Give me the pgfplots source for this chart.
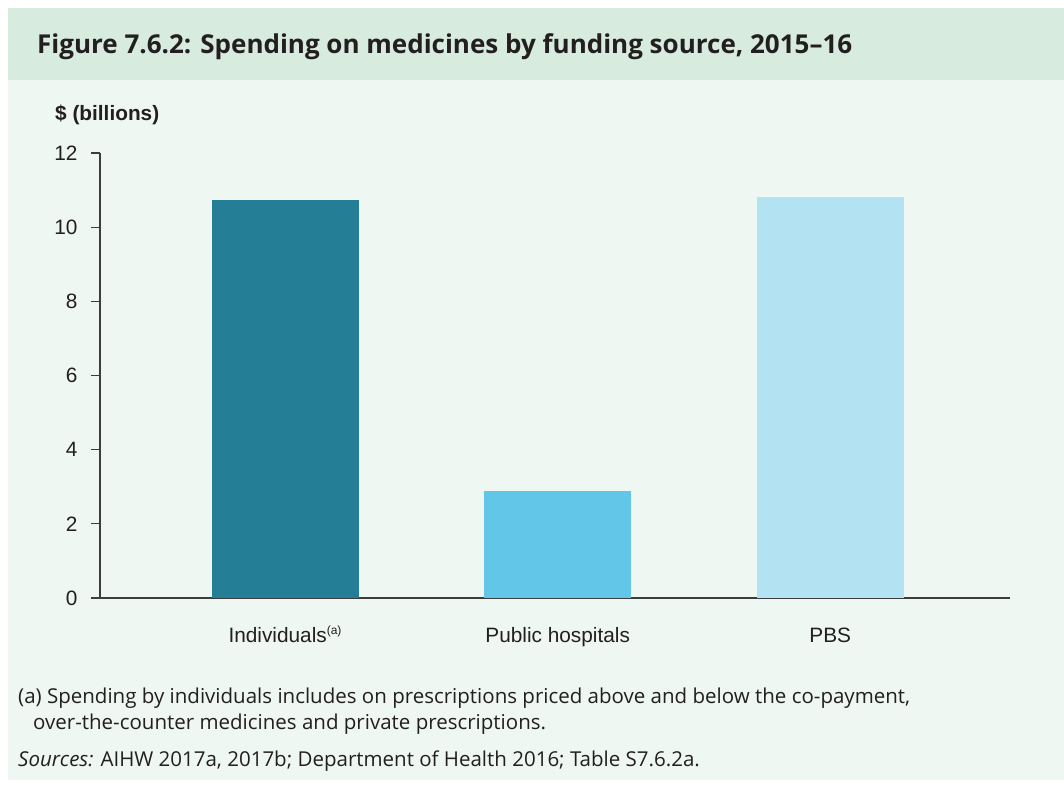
\documentclass[border=0pt]{standalone}
\usepackage{fontspec}
\setmainfont{Open Sans}
\newfontfamily\arial{Liberation Sans}
\usepackage{pgfplots}
\pgfplotsset{compat=1.18}
\definecolor{bandgreen}{HTML}{D7ECDE}
\definecolor{panelgreen}{HTML}{EEF7F2}
\definecolor{dteal}{HTML}{237E96}
\definecolor{mblue}{HTML}{61C6E7}
\definecolor{lblue}{HTML}{B3E2F3}
\definecolor{txt}{HTML}{231F20}
\definecolor{axisgray}{HTML}{3C3C3C}
\begin{document}
\begin{tikzpicture}[x=1pt,y=1pt]
\fill[white] (0,0) rectangle (1064,787);
\fill[panelgreen] (8,7) rectangle (1064,707);
\fill[bandgreen] (8,707) rectangle (1064,779);
\node[anchor=west,text=txt,inner sep=0pt,font=\fontsize{26}{30}\selectfont\bfseries] at (37,740) {Figure 7.6.2: Spending on medicines by funding source, 2015–16};
\node[anchor=west,text=txt,inner sep=0pt,font=\arial\fontsize{20.8}{24}\selectfont\bfseries] at (55,672) {\$ (billions)};
\begin{axis}[
  at={(100pt,189pt)}, anchor=south west,
  scale only axis, width=910pt, height=445pt,
  xmin=0.32, xmax=3.66, ymin=0, ymax=12,
  axis x line=bottom, axis y line=left,
  axis line style={axisgray, line width=1.2pt, -},
  ytick={0,2,...,12},
  xtick={1,2,3},
  xticklabels={Individuals\textsuperscript{\fontsize{12}{13}\selectfont(a)}, Public hospitals, PBS},
  x tick style={draw=none},
  y tick style={axisgray, line width=1.2pt},
  tick align=outside,
  major tick length=9pt,
  yticklabel style={font=\arial\fontsize{20.8}{24}\selectfont, text=txt, anchor=east, xshift=-10pt},
  xticklabel style={font=\arial\fontsize{20.8}{24}\selectfont, text=txt, anchor=base, yshift=-35pt},
  /pgf/number format/assume math mode=true,
  ybar, bar width=147pt, bar shift=0pt,
  clip=false,
]
\addplot[draw=none, fill=dteal] coordinates {(1,10.73)};
\addplot[draw=none, fill=mblue] coordinates {(2,2.89)};
\addplot[draw=none, fill=lblue] coordinates {(3,10.81)};
\end{axis}
\node[anchor=base west,text=txt,inner sep=0pt,font=\fontsize{20.5}{24}\selectfont] at (18,84) {(a) Spending by individuals includes on prescriptions priced above and below the co-payment,};
\node[anchor=base west,text=txt,inner sep=0pt,font=\fontsize{20.5}{24}\selectfont] at (33,58) {over-the-counter medicines and private prescriptions.};
\node[anchor=base west,text=txt,inner sep=0pt,font=\fontsize{20.5}{24}\selectfont] at (18,21) {\textit{Sources:} AIHW 2017a, 2017b; Department of Health 2016; Table S7.6.2a.};
\end{tikzpicture}
\end{document}
